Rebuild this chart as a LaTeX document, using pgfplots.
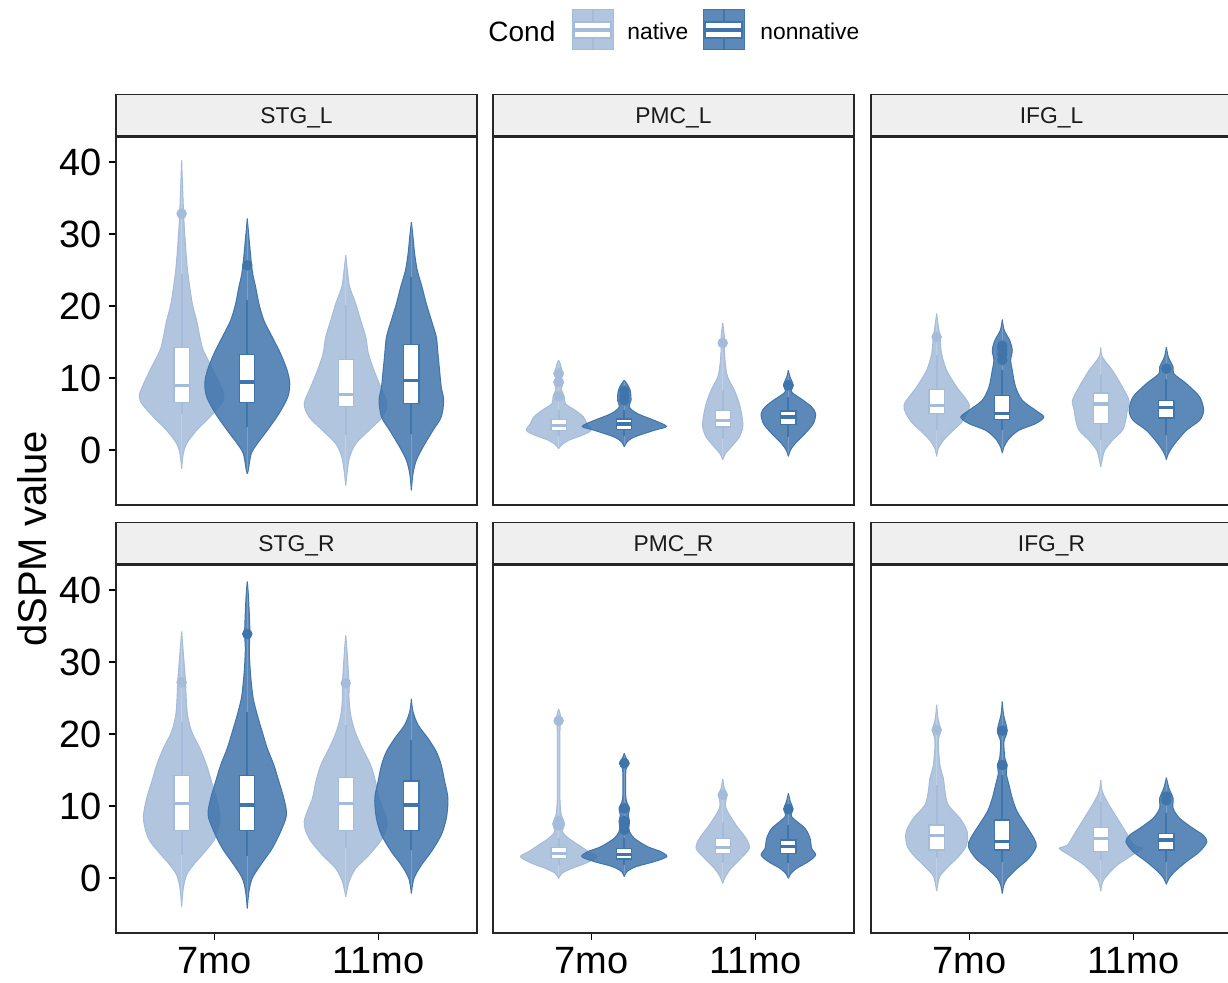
\documentclass[border=0pt]{standalone}
\usepackage{pgfplots}
\pgfplotsset{compat=1.18}
\usepackage{pgfplotstable}
\usepackage{fontspec}
\setmainfont{Liberation Sans}
\definecolor{natc}{HTML}{A4BBDA}
\definecolor{nonc}{HTML}{4075AC}
\definecolor{stripg}{HTML}{EFEFEF}
\definecolor{striptxt}{HTML}{1A1A1A}

% ---------- violin outlines: y value, half-width (x units) ----------
% STG_L
\pgfplotstableread{
y w
-2.60 0
-0.51 0.010
0.88 0.030
2.73 0.091
4.58 0.172
6.43 0.243
7.36 0.257
8.29 0.249
11.06 0.193
13.84 0.132
15.69 0.111
18.01 0.091
20.32 0.065
24.95 0.036
29.58 0.020
32.82 0.012
40.23 0
}\SLa
\pgfplotstableread{
y w
-3.29 0
-2.83 0.006
-0.51 0.024
0.88 0.061
2.73 0.122
5.04 0.193
7.36 0.247
9.21 0.259
11.06 0.243
13.38 0.203
15.69 0.152
18.01 0.101
20.32 0.071
22.64 0.051
24.95 0.030
29.58 0.010
32.13 0
}\SLb
\pgfplotstableread{
y w
-4.91 0
-2.83 0.010
-0.97 0.024
0.88 0.061
2.73 0.142
4.58 0.223
6.43 0.253
8.75 0.213
11.06 0.172
13.38 0.138
15.69 0.122
18.01 0.091
20.32 0.061
22.64 0.024
24.95 0.010
27.03 0
}\SLc
\pgfplotstableread{
y w
-5.60 0
-3.29 0.010
-1.44 0.030
0.41 0.071
2.73 0.132
4.58 0.182
6.90 0.197
8.75 0.182
11.06 0.172
13.38 0.162
15.69 0.152
18.01 0.122
20.32 0.091
22.64 0.065
24.95 0.036
27.27 0.020
29.58 0.010
31.66 0
}\SLd
% PMC_L
\pgfplotstableread{
y w
0.18 0
0.65 0.016
1.34 0.061
2.03 0.142
2.73 0.197
3.66 0.172
4.58 0.152
5.51 0.101
6.43 0.041
7.45 0.034
8.52 0.016
9.44 0.030
10.04 0.016
10.60 0.030
11.06 0.020
11.99 0.010
12.45 0
}\PLa
\pgfplotstableread{
y w
0.42 0
1.11 0.016
1.80 0.061
2.73 0.182
3.28 0.257
4.12 0.182
5.04 0.081
5.97 0.030
6.90 0.041
8.29 0.036
9.21 0.016
9.67 0
}\PLb
\pgfplotstableread{
y w
-1.34 0
-0.51 0.016
0.41 0.051
1.80 0.101
3.19 0.122
4.58 0.118
6.43 0.101
8.29 0.071
10.14 0.030
11.99 0.016
13.84 0.010
15.69 0.010
17.64 0
}\PLc
\pgfplotstableread{
y w
-0.88 0
-0.05 0.012
0.88 0.041
2.27 0.101
3.66 0.152
5.04 0.166
5.97 0.142
6.90 0.091
8.05 0.020
8.98 0.030
10.14 0.010
11.06 0
}\PLd
% IFG_L
\pgfplotstableread{
y w
-0.88 0
0.18 0.010
1.34 0.041
2.73 0.101
4.12 0.162
6.20 0.199
8.75 0.122
11.06 0.061
13.38 0.030
15.69 0.020
17.54 0.008
18.93 0
}\ILa
\pgfplotstableread{
y w
-0.42 0
0.41 0.010
1.57 0.041
2.73 0.101
3.66 0.203
4.58 0.253
5.51 0.203
6.90 0.122
8.75 0.081
11.06 0.061
12.45 0.051
13.84 0.061
15.23 0.045
16.62 0.012
18.10 0
}\ILb
\pgfplotstableread{
y w
-2.36 0
-1.20 0.010
-0.05 0.024
1.34 0.071
2.73 0.132
4.12 0.152
5.51 0.162
6.90 0.172
8.75 0.132
11.06 0.071
12.91 0.010
14.21 0
}\ILc
\pgfplotstableread{
y w
-1.34 0
-0.51 0.012
0.88 0.051
2.73 0.122
4.12 0.203
5.51 0.227
7.36 0.203
9.21 0.122
10.60 0.045
11.53 0.041
12.91 0.012
14.30 0
}\ILd
% STG_R
\pgfplotstableread{
y w
-3.98 0
-1.44 0.010
0.41 0.030
1.80 0.071
3.66 0.142
5.51 0.203
8.29 0.233
11.06 0.213
13.38 0.182
15.69 0.152
18.01 0.111
20.32 0.061
22.64 0.036
24.95 0.028
27.27 0.024
29.58 0.016
31.90 0.008
34.21 0
}\SRa
\pgfplotstableread{
y w
-4.22 0
-1.90 0.010
-0.05 0.030
1.80 0.081
4.12 0.152
6.43 0.203
8.75 0.239
11.06 0.223
13.38 0.193
15.69 0.162
18.01 0.122
20.32 0.091
22.64 0.061
24.95 0.036
27.27 0.024
29.58 0.016
31.90 0.012
34.21 0.016
38.84 0.008
41.16 0
}\SRb
\pgfplotstableread{
y w
-2.60 0
-0.51 0.020
1.34 0.061
3.19 0.142
5.51 0.223
7.82 0.253
11.06 0.203
13.38 0.182
15.69 0.152
18.01 0.101
20.32 0.057
22.64 0.030
24.95 0.020
27.03 0.020
31.43 0.008
33.66 0
}\SRc
\pgfplotstableread{
y w
-2.13 0
-0.05 0.016
1.80 0.061
3.66 0.122
5.97 0.182
8.29 0.213
11.06 0.223
13.38 0.203
15.69 0.182
17.54 0.152
19.40 0.101
21.25 0.041
23.10 0.010
24.86 0
}\SRd
% PMC_R
\pgfplotstableread{
y w
-0.05 0
0.65 0.020
1.34 0.081
2.03 0.162
2.96 0.233
3.66 0.182
4.58 0.122
5.51 0.061
6.43 0.024
7.59 0.036
8.75 0.016
11.06 0.008
15.69 0.008
20.32 0.008
21.85 0.012
22.64 0.010
23.47 0
}\PRa
\pgfplotstableread{
y w
0.18 0
0.88 0.016
1.57 0.071
2.27 0.182
2.96 0.259
3.66 0.223
4.35 0.142
5.51 0.061
6.43 0.032
7.13 0.028
7.91 0.032
8.75 0.024
9.67 0.032
11.06 0.010
15.00 0.010
15.92 0.030
16.62 0.012
17.31 0
}\PRb
\pgfplotstableread{
y w
-0.74 0
0.18 0.016
1.34 0.051
2.73 0.111
4.12 0.162
5.51 0.142
7.36 0.081
9.21 0.030
10.14 0.016
11.53 0.024
12.45 0.010
13.75 0
}\PRc
\pgfplotstableread{
y w
-0.05 0
0.65 0.016
1.34 0.051
2.27 0.122
3.19 0.166
4.12 0.142
5.51 0.132
6.90 0.101
8.52 0.020
9.58 0.028
10.60 0.012
11.76 0
}\PRd
% IFG_R
\pgfplotstableread{
y w
-1.81 0
-0.51 0.010
0.41 0.024
1.80 0.081
3.19 0.142
4.58 0.182
6.43 0.186
8.29 0.142
10.14 0.071
11.99 0.051
13.84 0.041
15.69 0.020
18.93 0.010
20.56 0.024
22.17 0.008
24.03 0
}\IRa
\pgfplotstableread{
y w
-2.13 0
-0.97 0.010
-0.05 0.030
1.34 0.091
2.73 0.162
4.35 0.207
5.51 0.193
7.36 0.142
9.21 0.091
11.06 0.061
12.91 0.041
14.54 0.024
15.69 0.030
16.62 0.016
18.93 0.010
20.46 0.030
22.64 0.008
24.49 0
}\IRb
\pgfplotstableread{
y w
-1.81 0
-0.51 0.012
0.41 0.041
1.80 0.101
3.19 0.193
4.12 0.253
4.58 0.203
6.43 0.152
8.29 0.101
10.14 0.051
11.99 0.010
13.61 0
}\IRc
\pgfplotstableread{
y w
-0.88 0
-0.05 0.016
0.88 0.051
2.27 0.122
3.66 0.203
5.04 0.247
5.97 0.223
6.90 0.162
8.29 0.081
9.67 0.041
11.06 0.041
12.45 0.016
13.93 0
}\IRd

% violin: centre, colour, table  (two filled halves + two outlines)
\newcommand{\violin}[3]{%
  \addplot[fill=#2, fill opacity=0.85, draw=none, smooth, tension=0.5, mark=none] table[x expr={#1+\thisrow{w}}, y=y] {#3} -- cycle;
  \addplot[fill=#2, fill opacity=0.85, draw=none, smooth, tension=0.5, mark=none] table[x expr={#1-\thisrow{w}}, y=y] {#3} -- cycle;
  \addplot[draw=#2, line width=0.5pt, smooth, tension=0.5, mark=none] table[x expr={#1+\thisrow{w}}, y=y] {#3};
  \addplot[draw=#2, line width=0.5pt, smooth, tension=0.5, mark=none] table[x expr={#1-\thisrow{w}}, y=y] {#3};
}
% box: pos, colour, lower whisker, q1, median, q3, upper whisker
\newcommand{\bxp}[7]{%
  \pgfmathsetmacro\bxl{#1-0.046}\pgfmathsetmacro\bxr{#1+0.046}%
  \addplot[draw=#2, line width=1pt, mark=none] coordinates {(#1,#3) (#1,#4)};
  \addplot[draw=#2, line width=1pt, mark=none] coordinates {(#1,#6) (#1,#7)};
  \addplot[draw=#2, fill=white, line width=0.6pt, mark=none] coordinates {(\bxl,#4) (\bxr,#4) (\bxr,#6) (\bxl,#6)} -- cycle;
  \addplot[draw=#2, line width=1.7pt, mark=none] coordinates {(\bxl,#5) (\bxr,#5)};
}
\pgfplotsset{
  outl/.style={only marks, mark=*, mark size=2.4pt, color=#1},
  panel/.style={
    scale only axis, width=180.5pt, height=184pt, anchor=south west,
    xmin=0.4, xmax=2.6, ymin=-7.64, ymax=43.47,
    axis line style={black!85, line width=0.7pt},
    tick align=outside, tick pos=left, major tick length=3.5pt,
    tick style={black, line width=0.6pt},
    ticklabel style={font=\fontsize{19}{19}\selectfont, text=black},
    /pgf/number format/assume math mode=true,
    xtick=\empty, ytick=\empty},
  leftcol/.style={ytick={0,10,20,30,40}},
  botrow/.style={xtick={1,2}, xticklabels={7mo,11mo}},
}
\newcommand{\strip}[3]{% x-left (pt), y-bottom (pt), label
  \draw[fill=stripg, draw=black!85, line width=0.7pt] (#1,#2) rectangle ++(180.5pt,20.5pt);
  \node[anchor=base, inner sep=0pt, text=striptxt, font=\fontsize{11.4}{13}\selectfont] at ([xshift=90.25pt,yshift=6.3pt]#1,#2) {#3};
}

\begin{document}
\begin{tikzpicture}
\clip (0pt,0pt) rectangle (614pt,491pt);
\fill[white] (0pt,0pt) rectangle (614pt,491pt);

% ---------------- top row ----------------
\begin{axis}[panel, leftcol, at={(58pt,238.5pt)}]
\violin{0.8}{natc}{\SLa}
\violin{1.2}{nonc}{\SLb}
\violin{1.8}{natc}{\SLc}
\violin{2.2}{nonc}{\SLd}
\bxp{0.8}{natc}{5.04}{6.57}{8.98}{14.21}{24.5}
\bxp{1.2}{nonc}{3.19}{6.57}{9.44}{13.28}{20.79}
\bxp{1.8}{natc}{2.03}{6.06}{7.68}{12.59}{20.09}
\bxp{2.2}{nonc}{2.27}{6.43}{9.67}{14.67}{24.03}
\addplot[outl=natc] coordinates {(0.8,32.82)};
\addplot[outl=nonc] coordinates {(1.2,25.65)};
\end{axis}

\begin{axis}[panel, at={(246.5pt,238.5pt)}]
\violin{0.8}{natc}{\PLa}
\violin{1.2}{nonc}{\PLb}
\violin{1.8}{natc}{\PLc}
\violin{2.2}{nonc}{\PLd}
\bxp{0.8}{natc}{1.94}{2.73}{3.42}{4.26}{5.51}
\bxp{1.2}{nonc}{1.94}{2.90}{3.60}{4.30}{5.51}
\bxp{1.8}{natc}{1.57}{3.19}{4.12}{5.51}{8.29}
\bxp{2.2}{nonc}{1.80}{3.56}{4.58}{5.41}{7.36}
\addplot[outl=natc] coordinates {(0.8,7.45) (0.8,9.44) (0.8,10.60)};
\addplot[outl=nonc] coordinates {(1.2,6.9) (1.2,7.5) (1.2,8.2)};
\addplot[outl=natc] coordinates {(1.8,14.86)};
\addplot[outl=nonc] coordinates {(2.2,8.98)};
\end{axis}

\begin{axis}[panel, at={(435.5pt,238.5pt)}]
\violin{0.8}{natc}{\ILa}
\violin{1.2}{nonc}{\ILb}
\violin{1.8}{natc}{\ILc}
\violin{2.2}{nonc}{\ILd}
\bxp{0.8}{natc}{2.73}{5.04}{6.20}{8.42}{13.15}
\bxp{1.2}{nonc}{2.73}{4.21}{5.10}{7.59}{11.06}
\bxp{1.8}{natc}{1.34}{3.66}{6.40}{7.91}{10.60}
\bxp{2.2}{nonc}{2.03}{4.44}{5.90}{6.90}{9.91}
\addplot[outl=natc] coordinates {(0.8,15.69)};
\addplot[outl=nonc] coordinates {(1.2,12.5) (1.2,13.3) (1.2,14.0) (1.2,14.5)};
\addplot[outl=nonc] coordinates {(2.2,11.3)};
\end{axis}

% ---------------- bottom row ----------------
\begin{axis}[panel, leftcol, botrow, at={(58pt,24.5pt)}]
\violin{0.8}{natc}{\SRa}
\violin{1.2}{nonc}{\SRb}
\violin{1.8}{natc}{\SRc}
\violin{2.2}{nonc}{\SRd}
\bxp{0.8}{natc}{3.19}{6.57}{10.37}{14.21}{21.71}
\bxp{1.2}{nonc}{3.00}{6.57}{10.14}{14.21}{23.10}
\bxp{1.8}{natc}{4.12}{6.57}{10.37}{13.93}{21.25}
\bxp{2.2}{nonc}{3.89}{6.57}{10.14}{13.47}{19.16}
\addplot[outl=natc] coordinates {(0.8,27.17)};
\addplot[outl=nonc] coordinates {(1.2,33.89)};
\addplot[outl=natc] coordinates {(1.8,27.03)};
\end{axis}

\begin{axis}[panel, botrow, at={(246.5pt,24.5pt)}]
\violin{0.8}{natc}{\PRa}
\violin{1.2}{nonc}{\PRb}
\violin{1.8}{natc}{\PRc}
\violin{2.2}{nonc}{\PRd}
\bxp{0.8}{natc}{1.80}{2.73}{3.38}{4.21}{5.51}
\bxp{1.2}{nonc}{1.80}{2.64}{3.29}{4.12}{5.51}
\bxp{1.8}{natc}{2.03}{3.42}{4.26}{5.51}{7.82}
\bxp{2.2}{nonc}{2.03}{3.42}{4.40}{5.28}{7.36}
\addplot[outl=natc] coordinates {(0.8,7.3) (0.8,7.9) (0.8,21.85)};
\addplot[outl=nonc] coordinates {(1.2,6.66) (1.2,7.3) (1.2,7.91) (1.2,9.67) (1.2,15.92)};
\addplot[outl=natc] coordinates {(1.8,11.53)};
\addplot[outl=nonc] coordinates {(2.2,9.58)};
\end{axis}

\begin{axis}[panel, botrow, at={(435.5pt,24.5pt)}]
\violin{0.8}{natc}{\IRa}
\violin{1.2}{nonc}{\IRb}
\violin{1.8}{natc}{\IRc}
\violin{2.2}{nonc}{\IRd}
\bxp{0.8}{natc}{2.73}{3.89}{5.88}{7.36}{12.91}
\bxp{1.2}{nonc}{2.27}{3.89}{5.10}{8.05}{14.30}
\bxp{1.8}{natc}{2.50}{3.66}{5.50}{7.04}{10.60}
\bxp{2.2}{nonc}{2.27}{3.89}{5.30}{6.20}{8.98}
\addplot[outl=natc] coordinates {(0.8,20.56)};
\addplot[outl=nonc] coordinates {(1.2,15.69) (1.2,20.46)};
\addplot[outl=nonc] coordinates {(2.2,10.8) (2.2,11.3)};
\end{axis}

% ---------------- strips ----------------
\strip{58pt}{423.1pt}{STG\_L}
\strip{246.5pt}{423.1pt}{PMC\_L}
\strip{435.5pt}{423.1pt}{IFG\_L}
\strip{58pt}{209.1pt}{STG\_R}
\strip{246.5pt}{209.1pt}{PMC\_R}
\strip{435.5pt}{209.1pt}{IFG\_R}

% ---------------- y label ----------------
\node[rotate=90, font=\fontsize{20}{22}\selectfont] at (16pt,221.5pt) {dSPM value};

% ---------------- legend ----------------
\node[anchor=west, font=\fontsize{14}{16}\selectfont, inner sep=0pt] at (244pt,475.5pt) {Cond};
\foreach \kx/\kc in {286pt/natc, 351.5pt/nonc}{
  \fill[\kc, opacity=0.85] (\kx,466pt) rectangle ++(20.5pt,20pt);
  \draw[\kc, line width=0.5pt] (\kx,466pt) rectangle ++(20.5pt,20pt);
  \draw[\kc, line width=1pt] ([xshift=10.25pt]\kx,466pt) -- ++(0,20pt);
  \draw[\kc, fill=white, line width=0.6pt] ([xshift=1pt]\kx,472pt) rectangle ++(18.5pt,8pt);
  \draw[\kc, line width=1.6pt] ([xshift=1pt]\kx,476pt) -- ++(18.5pt,0);
}
\node[anchor=west, font=\fontsize{11.4}{13}\selectfont, inner sep=0pt] at (313.5pt,475.5pt) {native};
\node[anchor=west, font=\fontsize{11.4}{13}\selectfont, inner sep=0pt] at (380pt,475.5pt) {nonnative};
\end{tikzpicture}
\end{document}
